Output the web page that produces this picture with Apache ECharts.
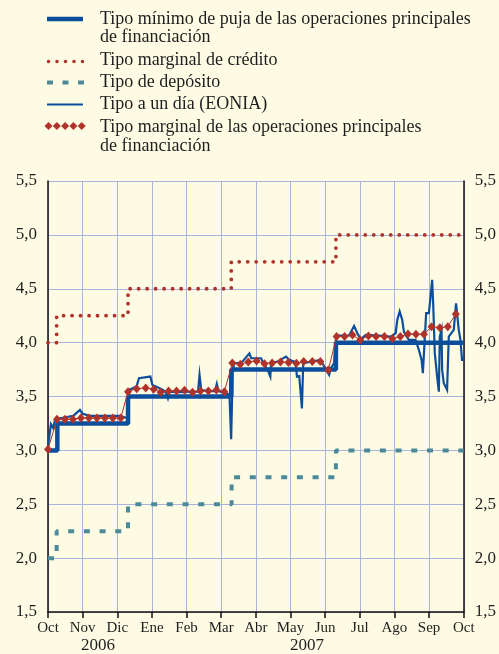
<!DOCTYPE html>
<html><head><meta charset="utf-8">
<script src="https://cdn.jsdelivr.net/npm/echarts@6/dist/echarts.min.js"></script>
<style>html,body{margin:0;padding:0;background:#FEFBE4;}#c{width:499px;height:654px;}</style>
</head><body><div id="c"></div>
<script>
// x positions are in months since 1 Oct 2006 (0 = Oct 2006, 12 = Oct 2007)
const monthLabels = ['Oct','Nov','Dic','Ene','Feb','Mar','Abr','May','Jun','Jul','Ago','Sep','Oct'];
const yearLabels = ['2006','2007'];
const seriesNames = [
  'Tipo mínimo de puja de las operaciones principales de financiación',
  'Tipo marginal de crédito',
  'Tipo de depósito',
  'Tipo a un día (EONIA)',
  'Tipo marginal de las operaciones principales de financiación'
];
const minBidRate = [[0,3.00],[0.27,3.25],[2.31,3.50],[5.29,3.75],[8.31,4.00],[12,4.00]];
const marginalLending = [[0,4.00],[0.25,4.25],[2.31,4.50],[5.29,4.75],[8.31,5.00],[12,5.00]];
const depositRate = [[0,2.00],[0.25,2.25],[2.31,2.50],[5.30,2.75],[8.31,3.00],[12,3.00]];
const eonia = [
  [0.00,3.035],[0.086,3.243],[0.153,3.206],[0.201,3.283],[0.259,3.30],[0.345,3.298],[0.728,3.32],
  [0.921,3.376],[0.999,3.34],[1.209,3.32],[1.640,3.32],[2.072,3.32],[2.282,3.30],
  [2.331,3.56],[2.553,3.592],[2.627,3.67],[2.840,3.68],[2.955,3.685],[3.013,3.607],[3.128,3.59],
  [3.318,3.561],[3.416,3.53],[3.462,3.484],[3.511,3.545],[3.799,3.54],[4.086,3.545],[4.331,3.545],
  [4.374,3.70],[4.423,3.56],[4.662,3.55],[4.820,3.55],[4.872,3.617],[4.921,3.55],[5.142,3.53],
  [5.237,3.52],[5.286,3.104],[5.332,3.747],[5.381,3.81],[5.574,3.81],[5.813,3.90],[5.862,3.855],
  [6.150,3.855],[6.245,3.793],[6.340,3.747],[6.417,3.685],[6.437,3.81],[6.627,3.824],[6.869,3.87],
  [6.964,3.84],[7.108,3.824],[7.157,3.777],[7.186,3.685],[7.252,3.69],[7.329,3.39],[7.367,3.81],
  [7.588,3.824],[7.876,3.84],[7.971,3.777],[8.115,3.70],[8.164,3.762],[8.259,3.81],[8.308,4.025],
  [8.325,4.066],[8.691,4.066],[8.835,4.155],[8.929,4.087],[9.027,4.031],[9.171,4.071],[9.554,4.066],
  [9.890,4.056],[10.035,4.087],[10.081,4.21],[10.150,4.29],[10.225,4.21],[10.273,4.10],[10.322,4.071],
  [10.417,4.025],[10.610,4.025],[10.656,4.04],[10.705,3.932],[10.783,3.84],[10.820,3.716],[10.878,4.056],
  [10.915,4.273],[10.993,4.273],[11.042,4.427],[11.088,4.582],[11.117,4.365],[11.165,3.90],[11.232,3.685],
  [11.281,3.545],[11.309,4.056],[11.358,4.118],[11.376,3.747],[11.424,3.623],[11.519,3.561],[11.568,4.056],
  [11.712,4.118],[11.778,4.365],[11.856,4.118],[11.905,4.025],[11.950,3.84],[12.0,3.84]
];
const mroMarginal = [
  [0.00,3.01],[0.26,3.29],[0.49,3.29],[0.72,3.29],[0.95,3.30],[1.18,3.30],[1.41,3.30],[1.64,3.30],[1.87,3.30],[2.10,3.30],
  [2.31,3.545],[2.56,3.573],[2.82,3.58],[3.05,3.568],[3.25,3.54],[3.48,3.552],[3.71,3.552],[3.94,3.558],[4.17,3.54],
  [4.40,3.552],[4.63,3.552],[4.86,3.561],[5.09,3.545],
  [5.32,3.81],[5.55,3.80],[5.78,3.82],[6.02,3.83],[6.25,3.805],[6.47,3.812],[6.71,3.821],[6.94,3.815],[7.17,3.809],
  [7.38,3.824],[7.63,3.824],[7.86,3.824],[8.09,3.745],
  [8.33,4.056],[8.56,4.056],[8.79,4.071],[9.01,4.025],[9.25,4.062],[9.47,4.056],[9.71,4.056],[9.94,4.037],
  [10.17,4.056],[10.39,4.081],[10.62,4.078],[10.85,4.078],[11.07,4.148],[11.31,4.139],[11.54,4.148],[11.77,4.266]
];

const BLUE = '#0B4F9C', RED = '#B0332B', TEAL = '#4C8A99', GRID = '#A9B3DB', TXT = '#1E1E1E';
const FONT = '"Liberation Serif", "Times New Roman", serif';

const chart = echarts.init(document.getElementById('c'), null, {renderer:'canvas'});

function legendText(x, y, t) {
  return {type:'text', x:x, y:y, style:{text:t, font:'18px ' + FONT, fill:TXT, verticalAlign:'middle'}};
}
const legendGraphics = [
  {type:'line', shape:{x1:47, y1:19, x2:83, y2:19}, style:{stroke:BLUE, lineWidth:4.5}},
  legendText(100, 19, 'Tipo mínimo de puja de las operaciones principales'),
  legendText(100, 37.5, 'de financiación'),
  {type:'line', shape:{x1:48.5, y1:61.5, x2:84, y2:61.5}, style:{stroke:RED, lineWidth:3.6, lineDash:[0,8.5], lineCap:'round'}},
  legendText(100, 60, seriesNames[1]),
  {type:'line', shape:{x1:47, y1:82.5, x2:84, y2:82.5}, style:{stroke:TEAL, lineWidth:4, lineDash:[6,9.5]}},
  legendText(100, 82, seriesNames[2]),
  {type:'line', shape:{x1:47, y1:104.5, x2:83, y2:104.5}, style:{stroke:BLUE, lineWidth:2.2}},
  legendText(100, 104, seriesNames[3]),
  legendText(100, 127, 'Tipo marginal de las operaciones principales'),
  legendText(100, 146, 'de financiación')
];
[48.5, 56.8, 65.1, 73.4, 81.7].forEach(function(cx){
  legendGraphics.push({type:'polygon', shape:{points:[[cx,122],[cx+4,126],[cx,130],[cx-4,126]]}, style:{fill:RED}});
});
legendGraphics.push({type:'text', x:98, y:646, style:{text:yearLabels[0], font:'17px ' + FONT, fill:TXT, align:'center', verticalAlign:'middle'}});
legendGraphics.push({type:'text', x:307, y:646, style:{text:yearLabels[1], font:'17px ' + FONT, fill:TXT, align:'center', verticalAlign:'middle'}});

const yLabelFmt = function(v){ return v.toFixed(1).replace('.', ','); };

chart.setOption({
  animation:false,
  backgroundColor:'#FEFBE4',
  textStyle:{fontFamily:FONT},
  grid:{left:48, right:34, top:181, bottom:42, containLabel:false},
  xAxis:{
    type:'value', min:0, max:12, interval:1,
    axisLine:{show:true, lineStyle:{color:'#111', width:1.5}},
    axisTick:{show:true, length:6, lineStyle:{color:'#111', width:1.5}},
    axisLabel:{formatter:function(v){return monthLabels[v];}, fontSize:15, color:TXT, fontFamily:FONT, margin:9},
    splitLine:{show:true, lineStyle:{color:GRID, width:1}}
  },
  yAxis:[
    {type:'value', min:1.5, max:5.5, interval:0.5, position:'left',
     axisLine:{show:true, lineStyle:{color:'#111', width:1.5}}, axisTick:{show:false},
     axisLabel:{formatter:yLabelFmt, fontSize:17, color:TXT, fontFamily:FONT, margin:11},
     splitLine:{show:true, lineStyle:{color:GRID, width:1}}},
    {type:'value', min:1.5, max:5.5, interval:0.5, position:'right',
     axisLine:{show:true, lineStyle:{color:'#111', width:1.5}}, axisTick:{show:false},
     axisLabel:{formatter:yLabelFmt, fontSize:17, color:TXT, fontFamily:FONT, margin:11},
     splitLine:{show:false}}
  ],
  graphic:legendGraphics,
  series:[
    {name:seriesNames[1], type:'line', step:'end', data:marginalLending, showSymbol:false, symbol:'none',
     lineStyle:{color:RED, width:3.8, type:[0,8.5], cap:'round'}},
    {name:seriesNames[2], type:'line', step:'end', data:depositRate, showSymbol:false, symbol:'none',
     lineStyle:{color:TEAL, width:4, type:[6,9.7], cap:'butt'}},
    {name:seriesNames[0], type:'line', step:'end', data:minBidRate, showSymbol:false, symbol:'none',
     lineStyle:{color:BLUE, width:4.5}},
    {name:seriesNames[3], type:'line', data:eonia, showSymbol:false, symbol:'none',
     lineStyle:{color:BLUE, width:2.2, join:'miter'}},
    {name:seriesNames[4], type:'line', data:mroMarginal, symbol:'diamond', symbolSize:[8,9], showSymbol:true,
     itemStyle:{color:RED}, lineStyle:{color:RED, width:1}}
  ]
});
</script></body></html>
